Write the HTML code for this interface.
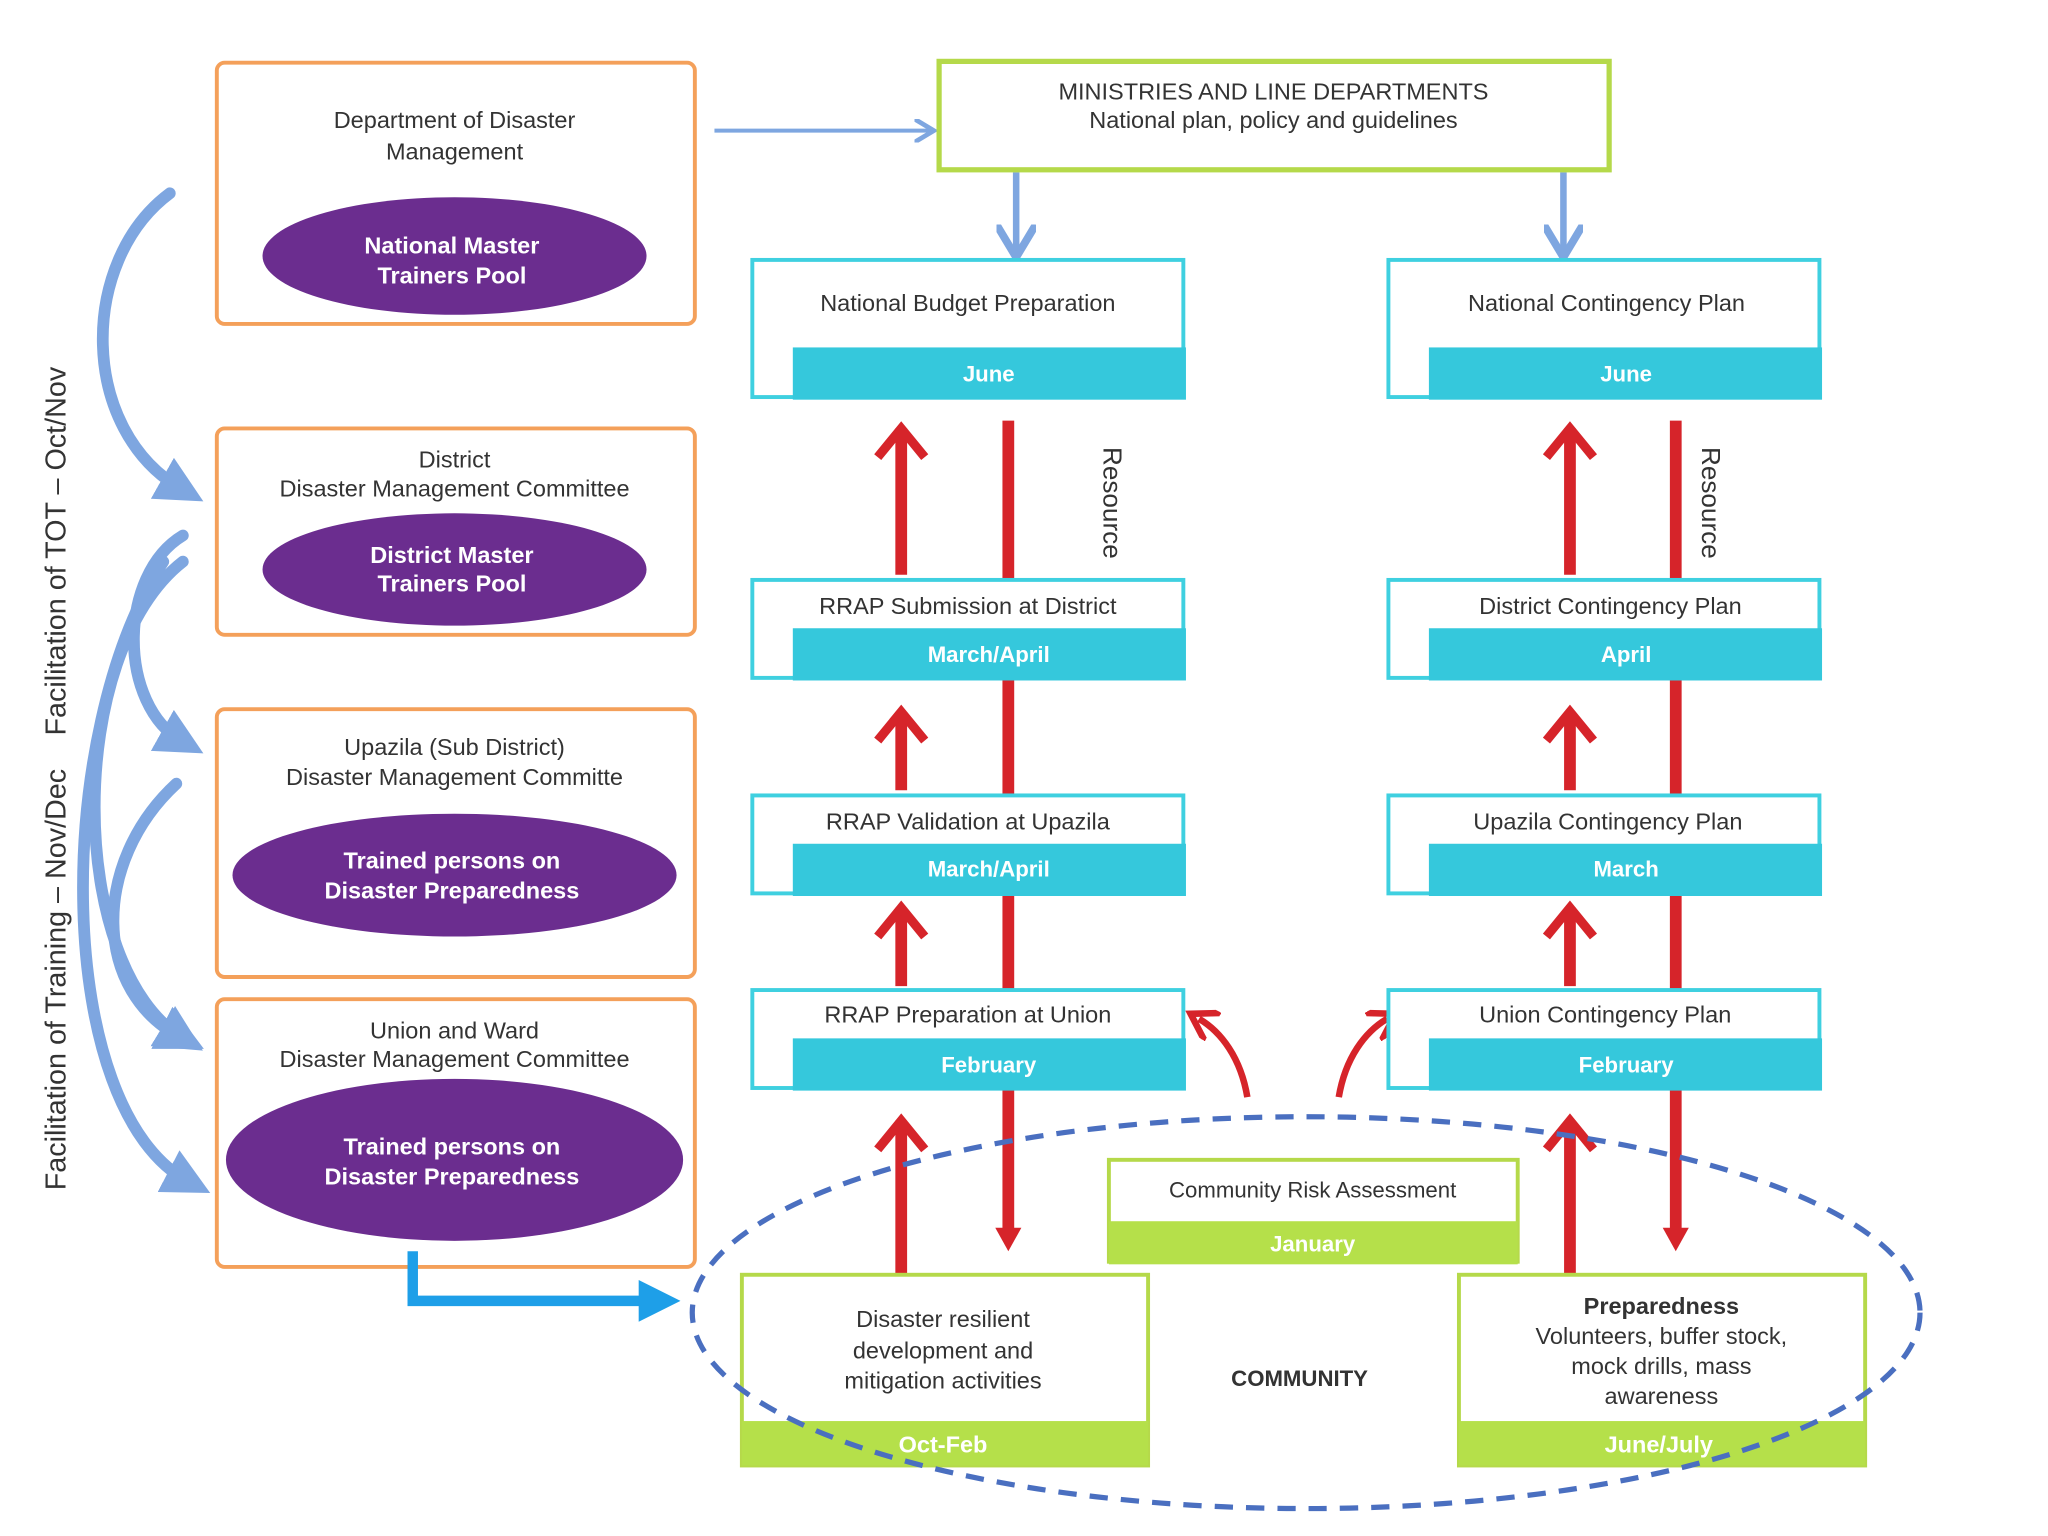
<!DOCTYPE html>
<html><head><meta charset="utf-8"><style>
html,body{margin:0;padding:0;background:#fff;}
svg{display:block;}
text{font-family:"Liberation Sans",sans-serif;}
</style></head><body>
<svg width="2048" height="1536" viewBox="0 0 1568 1176" preserveAspectRatio="none" xmlns="http://www.w3.org/2000/svg">
<defs>
<marker id="ba" markerWidth="6" markerHeight="6" refX="4" refY="3" orient="auto" markerUnits="strokeWidth"><path d="M0,0 L5,3 L0,6" fill="none" stroke="#7ea6e0" stroke-width="1.2"/></marker>
<marker id="bb" markerWidth="4" markerHeight="4" refX="2" refY="2" orient="auto" markerUnits="strokeWidth"><path d="M0,0 L4,2 L0,4 Z" fill="#7ea6e0"/></marker>
<marker id="rs" markerWidth="5" markerHeight="5" refX="2.5" refY="2.5" orient="auto" markerUnits="strokeWidth"><path d="M0,0 L4,2.5 L0,5" fill="none" stroke="#d6242a" stroke-width="1"/></marker>
<marker id="cb" markerWidth="4" markerHeight="4" refX="2" refY="2" orient="auto" markerUnits="strokeWidth"><path d="M0,0 L4,2 L0,4 Z" fill="#1e9fe8"/></marker>
</defs>
<rect width="1568" height="1176" fill="#fff"/>

<g fill="#fff" stroke="#f4a05a" stroke-width="3">
<rect x="166" y="48" width="366" height="200" rx="6"/>
<rect x="166" y="328" width="366" height="158" rx="6"/>
<rect x="166" y="543" width="366" height="205" rx="6"/>
<rect x="166" y="765" width="366" height="205" rx="6"/>
</g>
<g fill="#6b2d8f">
<ellipse cx="348" cy="196" rx="147" ry="45"/>
<ellipse cx="348" cy="436" rx="147" ry="43"/>
<ellipse cx="348" cy="670" rx="170" ry="47"/>
<ellipse cx="348" cy="888" rx="175" ry="62"/>
</g>
<g font-size="18" fill="#333" text-anchor="middle">
<text x="348" y="98">Department of Disaster</text>
<text x="348" y="122">Management</text>
<text x="348" y="358">District</text>
<text x="348" y="380">Disaster Management Committee</text>
<text x="348" y="578">Upazila (Sub District)</text>
<text x="348" y="601">Disaster Management Committe</text>
<text x="348" y="795">Union and Ward</text>
<text x="348" y="817">Disaster Management Committee</text>
</g>
<g font-size="18" fill="#fff" font-weight="bold" text-anchor="middle">
<text x="346" y="194">National Master</text>
<text x="346" y="217">Trainers Pool</text>
<text x="346" y="431">District Master</text>
<text x="346" y="453">Trainers Pool</text>
<text x="346" y="665">Trained persons on</text>
<text x="346" y="688">Disaster Preparedness</text>
<text x="346" y="884">Trained persons on</text>
<text x="346" y="907">Disaster Preparedness</text>
</g>

<g fill="none" stroke="#7ea6e0" stroke-width="9" stroke-linecap="round">
<path d="M130,148 C60,200 60,330 140,375" marker-end="url(#bb)"/>
<path d="M140,410 C90,440 90,540 140,568" marker-end="url(#bb)"/>
<path d="M140,430 C50,500 50,740 140,795" marker-end="url(#bb)"/>
<path d="M135,600 C70,660 70,760 140,795" marker-end="url(#bb)"/>
<path d="M125,430 C40,560 40,850 145,905" marker-end="url(#bb)"/>
</g>
<g font-size="22" fill="#333" text-anchor="middle">
<text transform="translate(50,422) rotate(-90)">Facilitation of TOT – Oct/Nov</text>
<text transform="translate(50,750) rotate(-90)">Facilitation of Training – Nov/Dec</text>
</g>

<g fill="none" stroke="#7ea6e0" stroke-width="3">
<path d="M547,100 L712,100" marker-end="url(#ba)"/>
<path d="M778,132 L778,192" stroke-width="5" marker-end="url(#ba)"/>
<path d="M1197,132 L1197,192" stroke-width="5" marker-end="url(#ba)"/>
</g>

<rect x="719" y="47" width="513" height="83" fill="#fff" stroke="#b5d94a" stroke-width="4"/>
<g font-size="18" fill="#333" text-anchor="middle">
<text x="975" y="76">MINISTRIES AND LINE DEPARTMENTS</text>
<text x="975" y="98">National plan, policy and guidelines</text>
</g>

<!-- red arrows -->
<g stroke="#d6242a" fill="none" stroke-width="9">
<line x1="772" y1="322" x2="772" y2="945"/>
<line x1="1283" y1="322" x2="1283" y2="945"/>
<line x1="690" y1="440" x2="690" y2="328"/>
<line x1="690" y1="605" x2="690" y2="545"/>
<line x1="690" y1="755" x2="690" y2="695"/>
<line x1="690" y1="975" x2="690" y2="858"/>
<line x1="1202" y1="440" x2="1202" y2="328"/>
<line x1="1202" y1="605" x2="1202" y2="545"/>
<line x1="1202" y1="755" x2="1202" y2="695"/>
<line x1="1202" y1="975" x2="1202" y2="858"/>
<g stroke-width="7" stroke-linejoin="miter">
<path d="M672,350 L690,328 L708,350"/>
<path d="M672,567 L690,545 L708,567"/>
<path d="M672,717 L690,695 L708,717"/>
<path d="M672,880 L690,858 L708,880"/>
<path d="M1184,350 L1202,328 L1220,350"/>
<path d="M1184,567 L1202,545 L1220,567"/>
<path d="M1184,717 L1202,695 L1220,717"/>
<path d="M1184,880 L1202,858 L1220,880"/>
</g>
<path d="M955,840 C950,810 935,790 918,780" stroke-width="5" marker-end="url(#rs)"/>
<path d="M1025,840 C1030,810 1045,790 1062,780" stroke-width="5" marker-end="url(#rs)"/>
</g>
<g fill="#d6242a">
<path d="M762,940 L782,940 L772,958 Z"/>
<path d="M1273,940 L1293,940 L1283,958 Z"/>
</g>
<g font-size="20" fill="#333" text-anchor="middle">
<text transform="translate(845,385) rotate(90)">Resource</text>
<text transform="translate(1303,385) rotate(90)">Resource</text>
</g>

<g fill="#fff" stroke="#3fd0e0" stroke-width="3">
<rect x="576" y="199" width="330" height="105"/>
<rect x="1063" y="199" width="330" height="105"/>
<rect x="576" y="444" width="330" height="75"/>
<rect x="1063" y="444" width="330" height="75"/>
<rect x="576" y="609" width="330" height="75"/>
<rect x="1063" y="609" width="330" height="75"/>
<rect x="576" y="758" width="330" height="75"/>
<rect x="1063" y="758" width="330" height="75"/>
</g>
<g fill="#35c8dc">
<rect x="607" y="266" width="301" height="40"/>
<rect x="1094" y="266" width="301" height="40"/>
<rect x="607" y="481" width="301" height="40"/>
<rect x="1094" y="481" width="301" height="40"/>
<rect x="607" y="646" width="301" height="40"/>
<rect x="1094" y="646" width="301" height="40"/>
<rect x="607" y="795" width="301" height="40"/>
<rect x="1094" y="795" width="301" height="40"/>
</g>
<g font-size="18" fill="#333" text-anchor="middle">
<text x="741" y="238">National Budget Preparation</text>
<text x="1230" y="238">National Contingency Plan</text>
<text x="741" y="470">RRAP Submission at District</text>
<text x="1233" y="470">District Contingency Plan</text>
<text x="741" y="635">RRAP Validation at Upazila</text>
<text x="1231" y="635">Upazila Contingency Plan</text>
<text x="741" y="783">RRAP Preparation at Union</text>
<text x="1229" y="783">Union Contingency Plan</text>
</g>
<g font-size="17" fill="#fff" font-weight="bold" text-anchor="middle">
<text x="757" y="292">June</text>
<text x="1245" y="292">June</text>
<text x="757" y="507">March/April</text>
<text x="1245" y="507">April</text>
<text x="757" y="671">March/April</text>
<text x="1245" y="671">March</text>
<text x="757" y="821">February</text>
<text x="1245" y="821">February</text>
</g>

<rect x="849" y="888" width="313" height="78" fill="#fff" stroke="#b5d94a" stroke-width="3"/>
<rect x="849" y="935" width="313" height="33" fill="#b5e04a"/>
<text x="1005" y="917" font-size="17" fill="#333" text-anchor="middle">Community Risk Assessment</text>
<text x="1005" y="958" font-size="17" fill="#fff" font-weight="bold" text-anchor="middle">January</text>

<rect x="568" y="976" width="311" height="146" fill="#fff" stroke="#b5d94a" stroke-width="3"/>
<rect x="568" y="1088" width="311" height="34" fill="#b5e04a"/>
<rect x="1117" y="976" width="311" height="146" fill="#fff" stroke="#b5d94a" stroke-width="3"/>
<rect x="1117" y="1088" width="311" height="34" fill="#b5e04a"/>
<g font-size="18" fill="#333" text-anchor="middle">
<text x="722" y="1016">Disaster resilient</text>
<text x="722" y="1040">development and</text>
<text x="722" y="1063">mitigation activities</text>
<text x="1272" y="1006" font-weight="bold">Preparedness</text>
<text x="1272" y="1029">Volunteers, buffer stock,</text>
<text x="1272" y="1052">mock drills, mass</text>
<text x="1272" y="1075">awareness</text>
</g>
<text x="995" y="1061" font-size="17" fill="#333" font-weight="bold" text-anchor="middle">COMMUNITY</text>
<g font-size="18" fill="#fff" font-weight="bold" text-anchor="middle">
<text x="722" y="1112">Oct-Feb</text>
<text x="1270" y="1112">June/July</text>
</g>
<ellipse cx="1000" cy="1005" rx="470" ry="150" fill="none" stroke="#4a6fc0" stroke-width="4" stroke-dasharray="14,10"/>

<path d="M316,958 L316,996 L505,996" fill="none" stroke="#1e9fe8" stroke-width="8" marker-end="url(#cb)"/>
</svg>
</body></html>
